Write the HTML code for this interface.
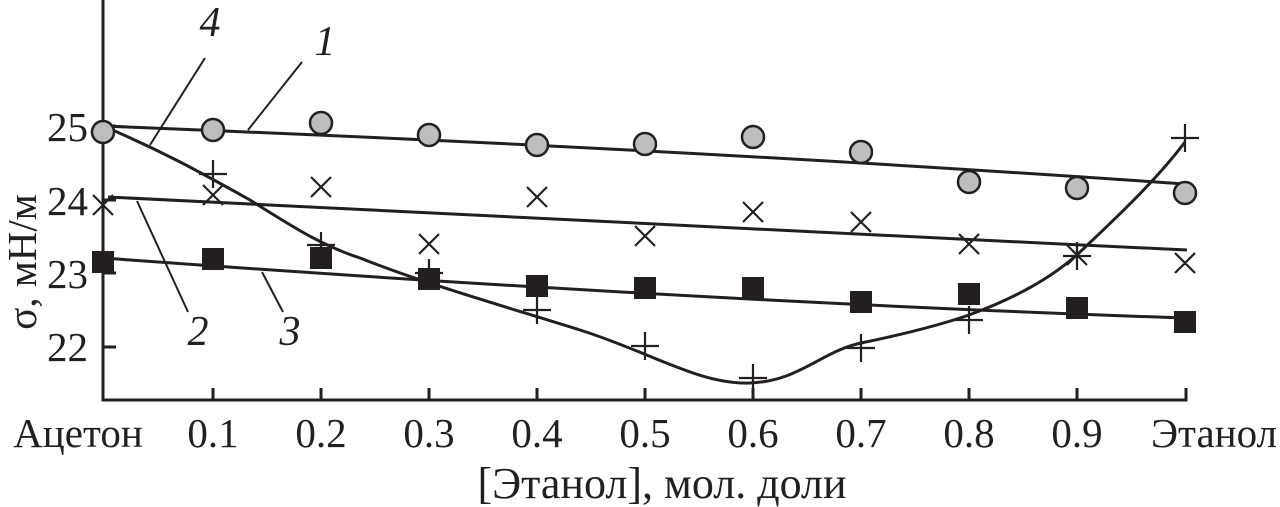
<!DOCTYPE html><html><head><style>body{margin:0;background:#fff}svg{display:block}text{font-family:"Liberation Serif",serif;fill:#231f20}</style></head><body>
<svg width="1280" height="507" viewBox="0 0 1280 507">
<g stroke="#231f20" stroke-width="3" fill="none">
<path d="M103 0V400H1186V388M213 400V388M321 400V388M429 400V388M537 400V388M645 400V388M753 400V388M861 400V388M969 400V388M1077 400V388M103 126H116M103 200H116M103 273H116M103 347H116"/>
<path d="M103 126 C300 134 700 150 1185 184"/>
<path d="M108 197 C400 210 800 232 1187 250"/>
<path d="M103 258 C400 280 800 305 1185 318"/>
<path d="M103 126 C160 150 200 172 250 200 C290 225 320 245 360 258 C420 282 500 305 580 330 C650 352 700 385 750 383 C800 381 820 352 861 343 C900 335 940 325 969 315 C1010 300 1050 280 1080 252 C1130 205 1160 175 1185 142"/>
<path stroke-width="2" d="M205 58L150 145M302 62L248 130M137 201L188 312M262 272L283 312"/>
</g>
<g fill="#bdbdbd" stroke="#231f20" stroke-width="2.5">
<circle cx="103" cy="132" r="11"/><circle cx="213" cy="130" r="11"/><circle cx="321" cy="123" r="11"/><circle cx="429" cy="135" r="11"/><circle cx="537" cy="145" r="11"/><circle cx="645" cy="144" r="11"/><circle cx="753" cy="137" r="11"/><circle cx="861" cy="152" r="11"/><circle cx="969" cy="182" r="11"/><circle cx="1077" cy="188" r="11"/><circle cx="1185" cy="193" r="11"/>
</g>
<g fill="#231f20">
<rect x="92" y="251" width="22" height="22"/><rect x="202" y="248" width="22" height="22"/><rect x="310" y="247" width="22" height="22"/><rect x="418" y="268" width="22" height="22"/><rect x="526" y="275" width="22" height="22"/><rect x="634" y="277" width="22" height="22"/><rect x="742" y="277" width="22" height="22"/><rect x="850" y="291" width="22" height="22"/><rect x="958" y="283" width="22" height="22"/><rect x="1066" y="297" width="22" height="22"/><rect x="1174" y="311" width="22" height="22"/>
</g>
<g stroke="#231f20" stroke-width="2.2" fill="none">
<path d="M93 195l20 20M113 195l-20 20M203 185l20 20M223 185l-20 20M311 177l20 20M331 177l-20 20M419 234l20 20M439 234l-20 20M527 187l20 20M547 187l-20 20M635 226l20 20M655 226l-20 20M743 202l20 20M763 202l-20 20M851 212l20 20M871 212l-20 20M959 234l20 20M979 234l-20 20M1067 245l20 20M1087 245l-20 20M1175 253l20 20M1195 253l-20 20"/>
<path d="M213 160v28M199 174h28M321 232v26M307 245h28M429 259v28M415 273h28M537 296v28M523 310h28M645 332v28M631 346h28M753 364v28M739 378h28M861 334v28M847 348h28M969 306v28M955 320h28M1077 242v28M1063 256h28M1185 124v28M1171 138h28"/>
</g>
<g font-size="41" text-anchor="middle">
<text x="78" y="447">Ацетон</text><text x="213" y="447">0.1</text><text x="321" y="447">0.2</text><text x="429" y="447">0.3</text><text x="537" y="447">0.4</text><text x="645" y="447">0.5</text><text x="753" y="447">0.6</text><text x="861" y="447">0.7</text><text x="969" y="447">0.8</text><text x="1077" y="447">0.9</text><text x="1214" y="447">Этанол</text>
<text x="662" y="498" font-size="44">[Этанол], мол. доли</text>
</g>
<g font-size="41" text-anchor="end">
<text x="88" y="141">25</text><text x="88" y="215">24</text><text x="88" y="288">23</text><text x="88" y="361">22</text>
</g>
<text font-size="41" text-anchor="middle" transform="translate(36 262) rotate(-90)">σ, мН/м</text>
<g font-size="42" font-style="italic" text-anchor="middle">
<text x="210" y="36">4</text><text x="325" y="55">1</text><text x="198" y="345">2</text><text x="290" y="345">3</text>
</g>
</svg></body></html>
